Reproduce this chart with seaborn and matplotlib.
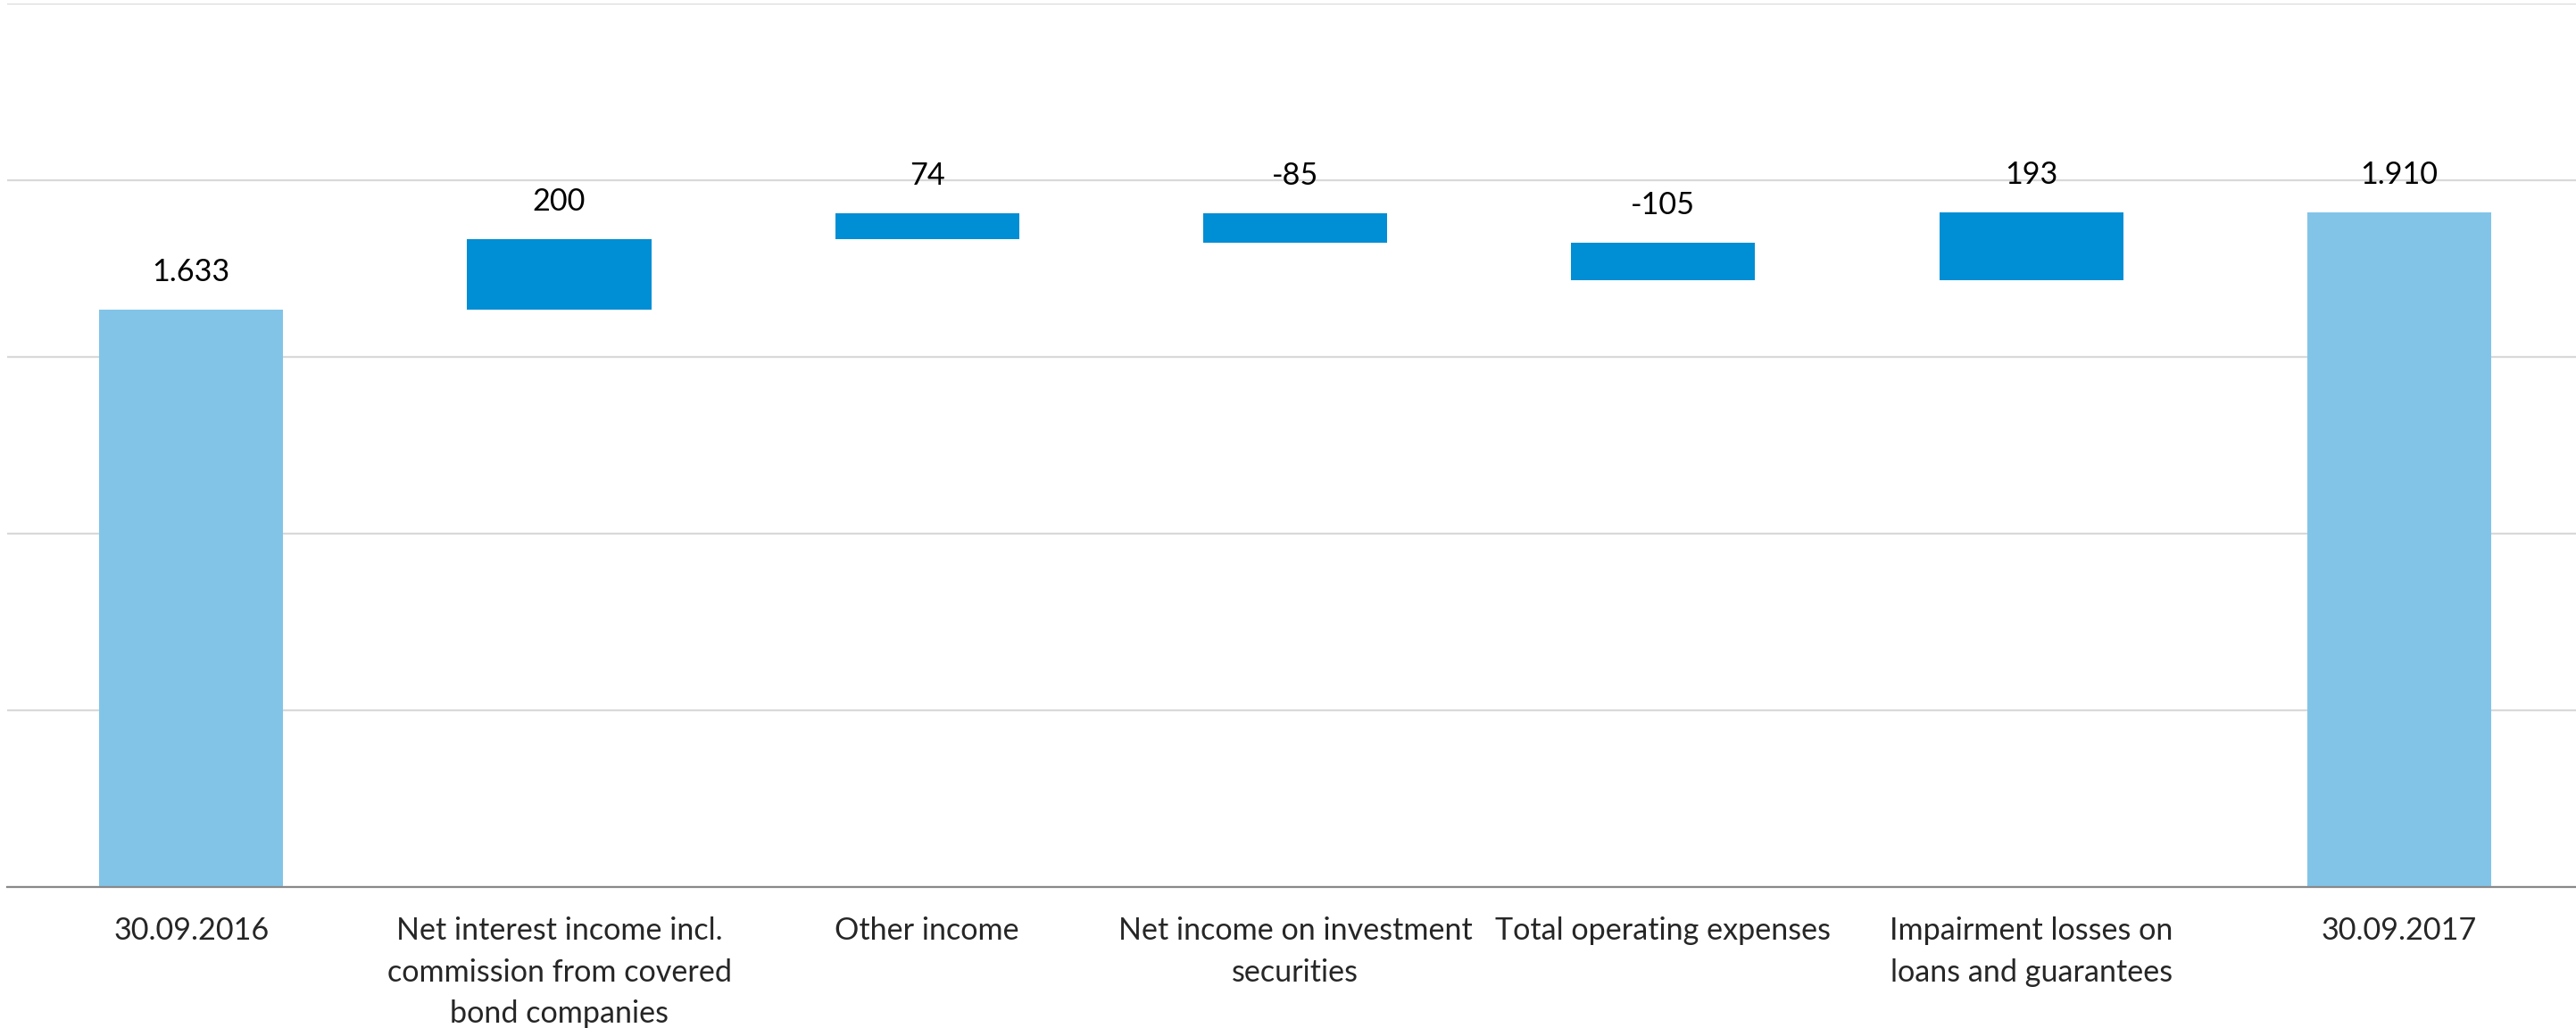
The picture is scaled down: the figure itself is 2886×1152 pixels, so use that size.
import numpy as np
import pandas as pd
import matplotlib.pyplot as plt
import seaborn as sns

# Datos del gráfico (cascada)
categorias = ['30.09.2016',
              'Net interest income incl.\ncommission from covered\nbond companies',
              'Other income',
              'Net income on investment\nsecurities',
              'Total operating expenses',
              'Impairment losses on\nloans and guarantees',
              '30.09.2017']
valores = [1633, 200, 74, -85, -105, 193, 1910]
es_total = [True, False, False, False, False, False, True]

color_total = '#82C4E8'
color_cambio = '#008ED4'

# Calcular base y altura de cada barra
base = []
altura = []
acumulado = 0
for v, t in zip(valores, es_total):
    if t:
        base.append(0)
        altura.append(v)
        acumulado = v
    else:
        nuevo = acumulado + v
        base.append(min(acumulado, nuevo))
        altura.append(abs(v))
        acumulado = nuevo
cima = [b + h for b, h in zip(base, altura)]

df = pd.DataFrame({'categoria': categorias, 'base': base, 'altura': altura})

sns.set_style('white')
plt.rcParams['font.family'] = ['Lato', 'DejaVu Sans']

fig = plt.figure(figsize=(14.43, 5.76), dpi=200)
ax = fig.add_axes([0.0028, 0.1372, 1.0, 0.8594])

sns.barplot(data=df, x='categoria', y='altura', order=categorias, bottom=np.array(base),
            width=0.5, errorbar=None, color=color_cambio, linewidth=0, ax=ax)

for p, t in zip(ax.patches, es_total):
    p.set_facecolor(color_total if t else color_cambio)
    p.set_edgecolor('none')

# Etiquetas de valores
for i, (v, c) in enumerate(zip(valores, cima)):
    texto = f'{v:,}'.replace(',', '.')
    ax.annotate(texto, (i, c), xytext=(0, 11.5), textcoords='offset points',
                ha='center', va='baseline', fontsize=12.3, color='black')

ax.set_ylim(0, 2500)
ax.set_xlim(-0.5, 6.5)
ax.set_yticks([0, 500, 1000, 1500, 2000, 2500])
ax.set_yticklabels([])
ax.yaxis.grid(True, color='#D9D9D9', linewidth=0.8)
ax.set_axisbelow(True)
ax.tick_params(axis='y', length=0)
ax.tick_params(axis='x', length=0, pad=12, labelsize=12.3)
for lab in ax.get_xticklabels():
    lab.set_linespacing(1.55)
ax.set_xlabel('')
ax.set_ylabel('')
for s in ['top', 'left', 'right']:
    ax.spines[s].set_visible(False)
ax.spines['bottom'].set_color('#898989')
ax.spines['bottom'].set_linewidth(0.8)

plt.savefig('out.png', dpi=200)
